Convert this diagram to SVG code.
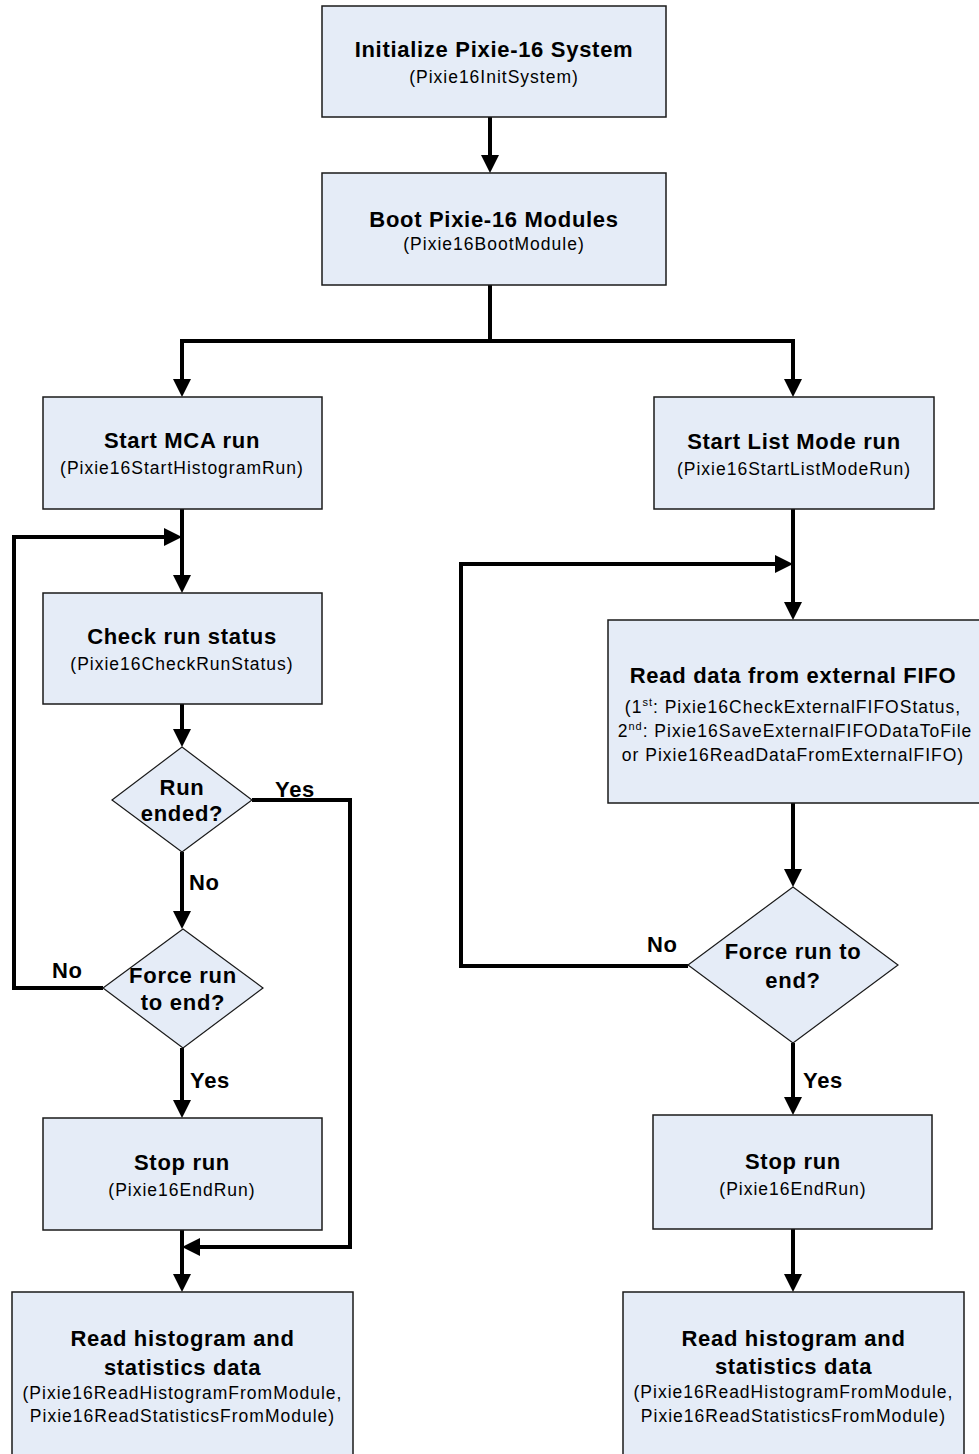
<svg xmlns="http://www.w3.org/2000/svg" width="979" height="1454" viewBox="0 0 979 1454">
<defs>
<style>
.box{fill:#E5ECF7;stroke:#1a1a1a;stroke-width:1.5}
.dia{fill:#E5ECF7;stroke:#1a1a1a;stroke-width:1.2}
.t{font-family:"Liberation Sans",Arial,sans-serif;font-weight:bold;font-size:22px;letter-spacing:0.7px;fill:#000;text-anchor:middle}
.s{font-family:"Liberation Sans",Arial,sans-serif;font-size:17.5px;letter-spacing:1px;fill:#000;text-anchor:middle}
.l{font-family:"Liberation Sans",Arial,sans-serif;font-weight:bold;font-size:22px;letter-spacing:0.7px;fill:#000}
.c{fill:none;stroke:#000;stroke-width:4;stroke-linejoin:miter}
.a{marker-end:url(#arr)}
</style>
<marker id="arr" viewBox="0 0 18 18" refX="10" refY="9" markerWidth="18" markerHeight="18" markerUnits="userSpaceOnUse" orient="auto">
<path d="M0,0 L18,9 L0,18 Z" fill="#000"/>
</marker>
</defs>
<rect width="979" height="1454" fill="#fff"/>

<g id="connectors">
<path class="c a" d="M490,117 V165"/>
<path class="c" d="M490,285 V341"/>
<path class="c a" d="M490,341 H182 V389"/>
<path class="c a" d="M490,341 H793 V389"/>
<path class="c a" d="M182,509 V585"/>
<path class="c a" d="M182,704 V739"/>
<path class="c a" d="M182,852 V921"/>
<path class="c a" d="M103,988 H14 V537 H174"/>
<path class="c a" d="M182,1048 V1110"/>
<path class="c a" d="M252,800 H350 V1247 H190"/>
<path class="c a" d="M182,1230 V1284"/>
<path class="c a" d="M793,509 V612"/>
<path class="c a" d="M793,803 V879"/>
<path class="c a" d="M688,966 H461 V564 H785"/>
<path class="c a" d="M793,1043 V1107"/>
<path class="c a" d="M793,1229 V1284"/>
<text class="l" x="275" y="797">Yes</text>
<text class="l" x="189" y="890">No</text>
<text class="l" x="52" y="978">No</text>
<text class="l" x="190" y="1088">Yes</text>
<text class="l" x="647" y="952">No</text>
<text class="l" x="803" y="1088">Yes</text>
</g>

<g id="init">
<rect class="box" x="322" y="6" width="344" height="111"/>
<text class="t" x="494" y="57">Initialize Pixie-16 System</text>
<text class="s" x="494" y="83">(Pixie16InitSystem)</text>
</g>

<g id="boot">
<rect class="box" x="322" y="173" width="344" height="112"/>
<text class="t" x="494" y="227">Boot Pixie-16 Modules</text>
<text class="s" x="494" y="250">(Pixie16BootModule)</text>
</g>

<g id="startMCA">
<rect class="box" x="43" y="397" width="279" height="112"/>
<text class="t" x="182" y="448">Start MCA run</text>
<text class="s" x="182" y="474">(Pixie16StartHistogramRun)</text>
</g>

<g id="startList">
<rect class="box" x="654" y="397" width="280" height="112"/>
<text class="t" x="794" y="449">Start List Mode run</text>
<text class="s" x="794" y="475">(Pixie16StartListModeRun)</text>
</g>

<g id="checkStatus">
<rect class="box" x="43" y="593" width="279" height="111"/>
<text class="t" x="182" y="644">Check run status</text>
<text class="s" x="182" y="670">(Pixie16CheckRunStatus)</text>
</g>

<g id="runEnded">
<polygon class="dia" points="182,747 252,800 182,852 112,800"/>
<text class="t" x="182" y="795">Run</text>
<text class="t" x="182" y="821">ended?</text>
</g>

<g id="forceLeft">
<polygon class="dia" points="183,929 263,988 183,1048 103,988"/>
<text class="t" x="183" y="983">Force run</text>
<text class="t" x="183" y="1010">to end?</text>
</g>

<g id="stopLeft">
<rect class="box" x="43" y="1118" width="279" height="112"/>
<text class="t" x="182" y="1170">Stop run</text>
<text class="s" x="182" y="1196">(Pixie16EndRun)</text>
</g>

<g id="readLeft">
<rect class="box" x="12" y="1292" width="341" height="180"/>
<text class="t" x="182.5" y="1346">Read histogram and</text>
<text class="t" x="182.5" y="1375">statistics data</text>
<text class="s" x="182.5" y="1399">(Pixie16ReadHistogramFromModule,</text>
<text class="s" x="182.5" y="1422">Pixie16ReadStatisticsFromModule)</text>
</g>

<g id="readFIFO">
<rect class="box" x="608" y="620" width="380" height="183"/>
<text class="t" x="793" y="683">Read data from external FIFO</text>
<text class="s" x="793" y="713">(1<tspan font-size="11" dy="-7">st</tspan><tspan dy="7">: Pixie16CheckExternalFIFOStatus,</tspan></text>
<text class="s" x="795" y="737">2<tspan font-size="11" dy="-7">nd</tspan><tspan dy="7">: Pixie16SaveExternalFIFODataToFile</tspan></text>
<text class="s" x="793" y="761">or Pixie16ReadDataFromExternalFIFO)</text>
</g>

<g id="forceRight">
<polygon class="dia" points="793,887 898,965 793,1043 688,965"/>
<text class="t" x="793" y="959">Force run to</text>
<text class="t" x="793" y="988">end?</text>
</g>

<g id="stopRight">
<rect class="box" x="653" y="1115" width="279" height="114"/>
<text class="t" x="793" y="1169">Stop run</text>
<text class="s" x="793" y="1195">(Pixie16EndRun)</text>
</g>

<g id="readRight">
<rect class="box" x="623" y="1292" width="341" height="180"/>
<text class="t" x="793.5" y="1346">Read histogram and</text>
<text class="t" x="793.5" y="1374">statistics data</text>
<text class="s" x="793.5" y="1398">(Pixie16ReadHistogramFromModule,</text>
<text class="s" x="793.5" y="1422">Pixie16ReadStatisticsFromModule)</text>
</g>
</svg>
